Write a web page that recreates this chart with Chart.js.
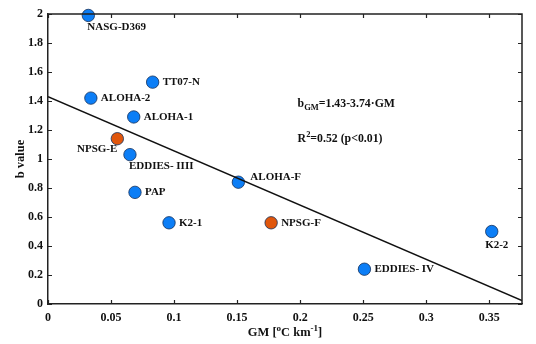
<!DOCTYPE html>
<html>
<head>
<meta charset="utf-8">
<script src="https://cdn.jsdelivr.net/npm/chart.js@4/dist/chart.umd.min.js"></script>
<style>
  html, body { margin: 0; padding: 0; background: #fff; }
  canvas { display: block; }
</style>
</head>
<body>
<canvas id="bChart" width="536" height="344"></canvas>
<script>
// sites, GM gradient and b value of each one
const sites = ['NASG-D369', 'ALOHA-2', 'TT07-N', 'ALOHA-1', 'NPSG-E', 'EDDIES- IIII',
               'PAP', 'K2-1', 'ALOHA-F', 'NPSG-F', 'EDDIES- IV', 'K2-2'];
const gm = [0.032, 0.034, 0.083, 0.068, 0.055, 0.065, 0.069, 0.096, 0.151, 0.177, 0.251, 0.352];
const bValue = [1.99, 1.42, 1.53, 1.29, 1.14, 1.03, 0.77, 0.56, 0.84, 0.56, 0.24, 0.50];
const npsgSites = ['NPSG-E', 'NPSG-F'];

// linear fit b = a + s*GM
const fitIntercept = 1.43;
const fitSlope = -3.74;
const fitR2 = 0.52;

const xTicks = [0, 0.05, 0.1, 0.15, 0.2, 0.25, 0.3, 0.35];
const yTicks = [0, 0.2, 0.4, 0.6, 0.8, 1, 1.2, 1.4, 1.6, 1.8, 2];
const xMax = 0.376;

// where each site name goes relative to its marker
const labelSide = {
  'NASG-D369': 'below', 'ALOHA-2': 'right', 'TT07-N': 'right', 'ALOHA-1': 'right',
  'NPSG-E': 'belowLeft', 'EDDIES- IIII': 'below', 'PAP': 'right', 'K2-1': 'right',
  'ALOHA-F': 'upRight', 'NPSG-F': 'right', 'EDDIES- IV': 'right', 'K2-2': 'belowCenter'
};

const SERIF = '"Liberation Serif", "Times New Roman", serif';
const INK = '#111';
const BLUE = '#0c7ef6';
const ORANGE = '#e0560c';

const points = sites.map((s, i) => ({ x: gm[i], y: bValue[i] }));
const colors = sites.map(s => npsgSites.includes(s) ? ORANGE : BLUE);

// text with sub/superscript pieces, drawn left to right
function drawRich(ctx, parts, x, y, size, align) {
  const widths = parts.map(p => {
    ctx.font = 'bold ' + (p.sup || p.sub ? size * 0.72 : size) + 'px ' + SERIF;
    return ctx.measureText(p.t).width;
  });
  const total = widths.reduce((a, b) => a + b, 0);
  let cx = align === 'center' ? x - total / 2 : x;
  ctx.textAlign = 'left';
  ctx.textBaseline = 'alphabetic';
  parts.forEach((p, i) => {
    ctx.font = 'bold ' + (p.sup || p.sub ? size * 0.72 : size) + 'px ' + SERIF;
    const dy = p.sup ? -size * 0.42 : (p.sub ? size * 0.3 : 0);
    ctx.fillText(p.t, cx, y + dy);
    cx += widths[i];
  });
}

const decorations = {
  id: 'decorations',
  afterDatasetsDraw(chart) {
    const ctx = chart.ctx;
    const area = chart.chartArea;
    const xs = chart.scales.x, ys = chart.scales.y;
    ctx.save();

    // frame top and right
    ctx.strokeStyle = '#222';
    ctx.lineWidth = 1.5;
    ctx.beginPath();
    ctx.moveTo(area.left, area.top);
    ctx.lineTo(area.right, area.top);
    ctx.lineTo(area.right, area.bottom);
    ctx.stroke();

    // inward tick marks on all four sides
    const tl = 4;
    ctx.lineWidth = 1.2;
    ctx.beginPath();
    xTicks.forEach(v => {
      const px = Math.round(xs.getPixelForValue(v)) + 0.5;
      ctx.moveTo(px, area.bottom); ctx.lineTo(px, area.bottom - tl);
      ctx.moveTo(px, area.top); ctx.lineTo(px, area.top + tl);
    });
    yTicks.forEach(v => {
      const py = Math.round(ys.getPixelForValue(v)) + 0.5;
      ctx.moveTo(area.left, py); ctx.lineTo(area.left + tl, py);
      ctx.moveTo(area.right, py); ctx.lineTo(area.right - tl, py);
    });
    ctx.stroke();

    // site names
    const meta = chart.getDatasetMeta(0);
    ctx.fillStyle = INK;
    ctx.font = 'bold 11px ' + SERIF;
    ctx.textBaseline = 'middle';
    meta.data.forEach((el, i) => {
      const side = labelSide[sites[i]];
      let x = el.x, y = el.y;
      if (side === 'right') { x += 10; ctx.textAlign = 'left'; }
      else if (side === 'below') { x -= 1; y += 12; ctx.textAlign = 'left'; }
      else if (side === 'belowLeft') { y += 10; ctx.textAlign = 'right'; }
      else if (side === 'belowCenter') { x += 5; y += 14; ctx.textAlign = 'center'; }
      else if (side === 'upRight') { x += 12; y -= 5; ctx.textAlign = 'left'; }
      ctx.fillText(sites[i], x, y);
    });

    // fit equation and statistics
    const ax = xs.getPixelForValue(0.198);
    drawRich(ctx, [{ t: 'b' }, { t: 'GM', sub: true },
      { t: '=' + fitIntercept.toFixed(2) + '-' + Math.abs(fitSlope).toFixed(2) + '\u00b7GM' }],
      ax, ys.getPixelForValue(1.36), 11.8, 'left');
    drawRich(ctx, [{ t: 'R' }, { t: '2', sup: true }, { t: '=' + fitR2.toFixed(2) + ' (p<0.01)' }],
      ax, ys.getPixelForValue(1.12), 11.8, 'left');

    // axis titles
    drawRich(ctx, [{ t: 'GM [' }, { t: 'o', sup: true }, { t: 'C km' }, { t: '-1', sup: true }, { t: ']' }],
      (area.left + area.right) / 2, 336, 12.5, 'center');
    ctx.save();
    ctx.translate(24, (area.top + area.bottom) / 2);
    ctx.rotate(-Math.PI / 2);
    drawRich(ctx, [{ t: 'b value' }], 0, 0, 12.5, 'center');
    ctx.restore();

    ctx.restore();
  }
};

const tickFont = { family: SERIF, size: 12, weight: 'bold' };

new Chart(document.getElementById('bChart'), {
  type: 'scatter',
  data: {
    datasets: [
      {
        label: 'b value',
        data: points,
        backgroundColor: colors,
        borderColor: '#14305a',
        borderWidth: 0.8,
        pointRadius: 6.2,
        pointHoverRadius: 6.2,
        clip: false,
        order: 1
      },
      {
        type: 'line',
        label: 'fit',
        data: [
          { x: 0, y: fitIntercept },
          { x: xMax, y: fitIntercept + fitSlope * xMax }
        ],
        borderColor: INK,
        borderWidth: 1.5,
        pointRadius: 0,
        fill: false,
        order: 0
      }
    ]
  },
  options: {
    responsive: false,
    animation: false,
    layout: { padding: { top: 14, right: 14, left: 0, bottom: 0 } },
    plugins: { legend: { display: false }, tooltip: { enabled: false } },
    scales: {
      x: {
        type: 'linear',
        min: 0,
        max: xMax,
        afterBuildTicks: s => { s.ticks = xTicks.map(v => ({ value: v })); },
        afterFit: s => { s.height = 40; },
        grid: { display: false, drawTicks: false },
        border: { color: '#222', width: 1.5 },
        ticks: {
          font: tickFont, color: INK, padding: 7, maxRotation: 0, autoSkip: false,
          callback: v => String(+v.toFixed(2))
        }
      },
      y: {
        min: 0,
        max: 2,
        afterBuildTicks: s => { s.ticks = yTicks.map(v => ({ value: v })); },
        afterFit: s => { s.width = 48; },
        grid: { display: false, drawTicks: false },
        border: { color: '#222', width: 1.5 },
        ticks: {
          font: tickFont, color: INK, padding: 5, autoSkip: false,
          callback: v => String(+v.toFixed(1))
        }
      }
    }
  },
  plugins: [decorations]
});
</script>
</body>
</html>
